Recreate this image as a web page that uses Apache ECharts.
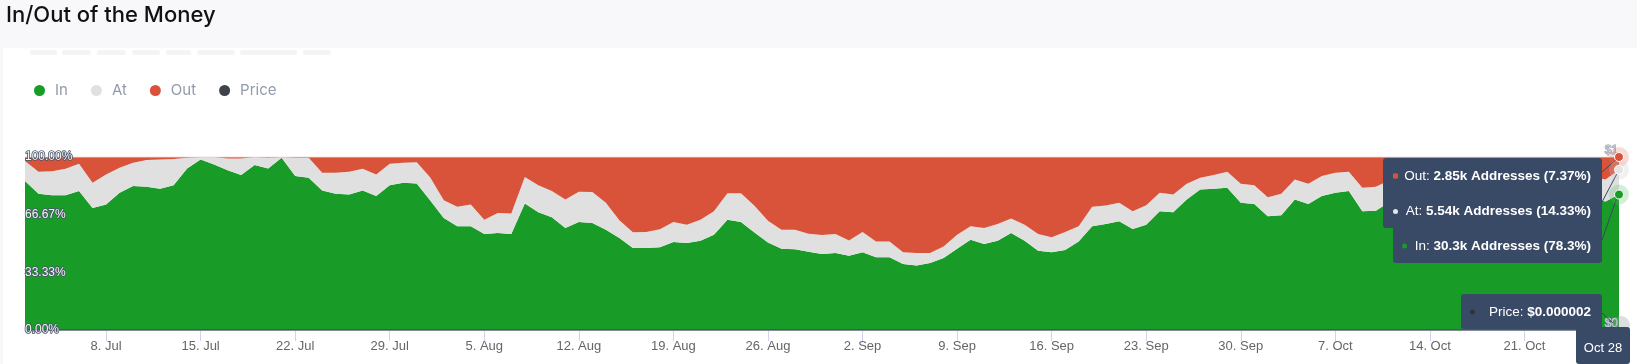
<!DOCTYPE html>
<html>
<head>
<meta charset="utf-8">
<script src="https://cdn.jsdelivr.net/npm/echarts@6/dist/echarts.min.js"></script>
<style>
  html, body { margin: 0; padding: 0; background: #f8f8fb; }
  #card { position: absolute; left: 3px; top: 48px; right: 0; bottom: 0; background: #ffffff; }
  #chart { position: absolute; left: 0; top: 0; width: 1637px; height: 364px; }
</style>
</head>
<body>
<div id="card"></div>
<div id="chart"></div>
<script>
// ---- data (percent of addresses, daily from Jul 2 to Oct 28) ----
const startDate = [2024, 6, 2];
const dayCount = 119;
const inPct = [
  86.1, 78.7, 77.9, 77.9, 80.3, 70.5, 72.5, 79.3, 83.2, 82.8,
  81.6, 83.7, 93.4, 98.5, 95.7, 92.3, 89.6, 95.4, 93.4, 99.6,
  89.0, 88.0, 80.7, 78.8, 78.3, 80.7, 77.4, 83.7, 85.1, 84.7,
  74.9, 64.8, 59.9, 59.9, 55.5, 56.1, 55.5, 73.1, 68.1, 65.2,
  59.0, 62.5, 61.9, 58.0, 53.2, 47.4, 47.4, 47.9, 50.9, 50.3,
  51.6, 55.1, 63.7, 62.4, 56.4, 50.6, 47.0, 46.7, 45.2, 44.0,
  44.5, 42.9, 44.9, 42.0, 42.0, 38.1, 37.3, 38.7, 41.6, 47.0,
  52.2, 49.7, 51.6, 56.1, 51.6, 45.8, 45.0, 46.2, 51.2, 59.9,
  61.3, 62.8, 58.4, 60.9, 68.7, 68.1, 75.4, 81.2, 81.6, 82.2,
  73.5, 72.9, 65.8, 66.3, 75.4, 72.9, 77.4, 79.3, 80.3, 68.7,
  69.0, 74.0, 76.5, 78.0, 77.0, 79.5, 78.5, 80.0, 76.0, 77.5,
  79.0, 78.0, 76.5, 78.5, 80.5, 79.0, 76.0, 74.3, 78.3
];
const atPct = [
  11.6, 12.8, 13.9, 15.3, 15.8, 14.6, 17.4, 14.5, 13.5, 15.5,
  17.0, 15.1, 6.2, 1.5, 4.3, 6.9, 9.6, 4.6, 6.2, 0.4,
  10.6, 11.6, 10.2, 12.1, 13.2, 12.5, 12.5, 12.4, 11.6, 12.2,
  13.3, 10.2, 11.3, 12.6, 8.3, 11.6, 11.8, 15.3, 15.5, 15.1,
  16.4, 17.4, 17.8, 15.5, 10.2, 9.1, 9.3, 10.3, 11.6, 10.6,
  12.2, 13.6, 15.4, 16.7, 15.4, 12.5, 11.0, 11.3, 10.4, 10.9,
  11.0, 8.9, 11.8, 9.2, 9.2, 6.9, 7.2, 5.8, 6.7, 8.0,
  7.8, 9.3, 9.7, 8.3, 9.3, 9.7, 8.6, 10.5, 8.8, 11.3,
  10.6, 10.7, 10.3, 11.2, 10.6, 10.2, 9.1, 6.8, 8.0, 9.3,
  11.0, 10.8, 11.0, 12.4, 11.6, 11.6, 11.6, 11.6, 11.2, 13.5,
  13.8, 12.5, 12.5, 12.5, 12.5, 12.0, 12.5, 12.0, 12.5, 12.5,
  12.0, 12.0, 12.5, 12.5, 12.0, 12.5, 12.5, 12.7, 14.33
];
const outPct = [
  2.3, 8.5, 8.2, 6.8, 3.9, 14.9, 10.1, 6.2, 3.3, 1.7,
  1.4, 1.2, 0.4, 0.0, 0.0, 0.8, 0.8, 0.0, 0.4, 0.0,
  0.4, 0.4, 9.1, 9.1, 8.5, 6.8, 10.1, 3.9, 3.3, 3.1,
  11.8, 25.0, 28.8, 27.5, 36.2, 32.3, 32.7, 11.6, 16.4, 19.7,
  24.6, 20.1, 20.3, 26.5, 36.6, 43.5, 43.3, 41.8, 37.5, 39.1,
  36.2, 31.3, 20.9, 20.9, 28.2, 36.9, 42.0, 42.0, 44.4, 45.1,
  44.5, 48.2, 43.3, 48.8, 48.8, 55.0, 55.5, 55.5, 51.7, 45.0,
  40.0, 41.0, 38.7, 35.6, 39.1, 44.5, 46.4, 43.3, 40.0, 28.8,
  28.1, 26.5, 31.3, 27.9, 20.7, 21.7, 15.5, 12.0, 10.4, 8.5,
  15.5, 16.3, 23.2, 21.3, 13.0, 15.5, 11.0, 9.1, 8.5, 17.8,
  17.2, 13.5, 11.0, 9.5, 10.5, 8.5, 9.0, 8.0, 11.5, 10.0,
  9.0, 10.0, 11.0, 9.0, 7.5, 8.5, 11.5, 13.0, 7.37
];
const pricePct = [
  0.000002, 0.000002, 0.000002, 0.000002, 0.000002, 0.000002, 0.000002, 0.000002, 0.000002, 0.000002,
  0.000002, 0.000002, 0.000002, 0.000002, 0.000002, 0.000002, 0.000002, 0.000002, 0.000002, 0.000002,
  0.000002, 0.000002, 0.000002, 0.000002, 0.000002, 0.000002, 0.000002, 0.000002, 0.000002, 0.000002,
  0.000002, 0.000002, 0.000002, 0.000002, 0.000002, 0.000002, 0.000002, 0.000002, 0.000002, 0.000002,
  0.000002, 0.000002, 0.000002, 0.000002, 0.000002, 0.000002, 0.000002, 0.000002, 0.000002, 0.000002,
  0.000002, 0.000002, 0.000002, 0.000002, 0.000002, 0.000002, 0.000002, 0.000002, 0.000002, 0.000002,
  0.000002, 0.000002, 0.000002, 0.000002, 0.000002, 0.000002, 0.000002, 0.000002, 0.000002, 0.000002,
  0.000002, 0.000002, 0.000002, 0.000002, 0.000002, 0.000002, 0.000002, 0.000002, 0.000002, 0.000002,
  0.000002, 0.000002, 0.000002, 0.000002, 0.000002, 0.000002, 0.000002, 0.000002, 0.000002, 0.000002,
  0.000002, 0.000002, 0.000002, 0.000002, 0.000002, 0.000002, 0.000002, 0.000002, 0.000002, 0.000002,
  0.000002, 0.000002, 0.000002, 0.000002, 0.000002, 0.000002, 0.000002, 0.000002, 0.000002, 0.000002,
  0.000002, 0.000002, 0.000002, 0.000002, 0.000002, 0.000002, 0.000002, 0.000002, 0.000002
];
const yTickValues = [0, 100 / 3, 200 / 3, 100];
const priceTickValues = [0, 1];
const monthNames = ['Jan','Feb','Mar','Apr','May','Jun','Jul','Aug','Sep','Oct','Nov','Dec'];
const tooltipRows = {
  out: ['Out: ', '2.85k Addresses (7.37%)'],
  at: ['At: ', '5.54k Addresses (14.33%)'],
  inn: ['In: ', '30.3k Addresses (78.3%)'],
  price: ['Price: ', '$0.000002'],
  date: 'Oct 28'
};

// ---- categories ----
const categories = [];
for (let i = 0; i < dayCount; i++) {
  const d = new Date(Date.UTC(startDate[0], startDate[1], startDate[2] + i));
  categories.push(d.getUTCDate() + '. ' + monthNames[d.getUTCMonth()]);
}
const tickFilter = (i) => i % 7 === 6 && i < dayCount - 1;

const GREEN = '#189c27', GRAY = '#e0e0e0', RED = '#d9533a', DARK = '#3e434b';
const chart = echarts.init(document.getElementById('chart'), null, { renderer: 'canvas' });

const option = {
  backgroundColor: 'transparent',
  animation: false,
  title: {
    text: 'In/Out of the Money', left: 1, top: -1,
    textStyle: { fontFamily: 'Inter', fontWeight: 500, fontSize: 22, color: '#111111' }
  },
  legend: {
    left: 29, top: 78, icon: 'circle', itemWidth: 11, itemHeight: 11, itemGap: 23,
    textStyle: { fontFamily: 'Inter', fontSize: 15, color: '#929bab', padding: [0, 0, 0, 5] },
    data: ['In', 'At', 'Out', 'Price']
  },
  grid: { left: 25, right: 18, top: 157, bottom: 34 },
  xAxis: {
    type: 'category', data: categories, boundaryGap: false,
    axisLine: { show: true, lineStyle: { color: '#ccd6eb' } },
    axisTick: { show: true, interval: tickFilter, length: 11, lineStyle: { color: '#ccd6eb' } },
    axisLabel: { interval: tickFilter, margin: 10, fontFamily: 'Liberation Sans', fontSize: 13, color: '#666666' },
    splitLine: { show: false }
  },
  yAxis: [{
    type: 'value', min: 0, max: 100, z: 10,
    axisLine: { show: false }, axisTick: { show: false }, splitLine: { show: false },
    axisLabel: {
      inside: true, margin: 0, customValues: yTickValues,
      formatter: (v) => v.toFixed(2) + '%',
      fontFamily: 'Liberation Sans', fontSize: 12, color: '#f3f4f7',
      textBorderColor: '#4a5468', textBorderWidth: 1.6, align: 'left', verticalAlign: 'middle'
    }
  }, {
    type: 'value', min: 0, max: 1, position: 'right', z: 10,
    axisLine: { show: false }, axisTick: { show: false }, splitLine: { show: false },
    axisLabel: {
      inside: true, margin: 1, customValues: priceTickValues,
      formatter: (v) => '$' + v,
      fontFamily: 'Liberation Sans', fontSize: 12, color: '#c9d0db',
      textBorderColor: '#8f9aae', textBorderWidth: 1, align: 'right', verticalAlign: 'bottom'
    }
  }],
  series: [
    { name: 'In', type: 'line', stack: 'pct', data: inPct, showSymbol: false,
      itemStyle: { color: GREEN }, lineStyle: { width: 0 }, areaStyle: { color: GREEN, opacity: 1 } },
    { name: 'At', type: 'line', stack: 'pct', data: atPct, showSymbol: false,
      itemStyle: { color: GRAY }, lineStyle: { width: 0 }, areaStyle: { color: GRAY, opacity: 1 } },
    { name: 'Out', type: 'line', stack: 'pct', data: outPct, showSymbol: false,
      itemStyle: { color: RED }, lineStyle: { width: 1, color: '#f0c4ba' }, areaStyle: { color: RED, opacity: 1 } },
    { name: 'Price', type: 'line', yAxisIndex: 1, data: pricePct, showSymbol: false, z: 5,
      itemStyle: { color: DARK }, lineStyle: { width: 1.5, color: '#4a4f57' } }
  ]
};
chart.setOption(option);

// ---- hover-state overlay (split tooltip + highlighted points) ----
const last = dayCount - 1;
const pOut = chart.convertToPixel({ gridIndex: 0 }, [last, inPct[last] + atPct[last] + outPct[last]]);
const pAt = chart.convertToPixel({ gridIndex: 0 }, [last, inPct[last] + atPct[last]]);
const pIn = chart.convertToPixel({ gridIndex: 0 }, [last, inPct[last]]);
const pPrice = chart.convertToPixel({ xAxisIndex: 0, yAxisIndex: 1 }, [last, pricePct[last]]);

const BOX = '#394a66';
const xr = pIn[0];
const boxRight = xr - 17;
const textX = xr - 28;
const rich = {
  n: { fontFamily: 'Liberation Sans', fontSize: 13.5, fill: '#ffffff' },
  b: { fontFamily: 'Liberation Sans', fontSize: 13.5, fontWeight: 'bold', fill: '#ffffff' }
};
function rowText(row, y) {
  return { type: 'text', x: textX, y: y, z: 30,
    style: { text: '{n|' + row[0] + '}{b|' + row[1] + '}', rich: rich, fill: '#ffffff', align: 'right', verticalAlign: 'middle' } };
}
function halo(p, color, fill) {
  return [
    { type: 'circle', shape: { cx: p[0], cy: p[1], r: 10 }, z: 25, style: { fill: color, opacity: 0.25 } },
    { type: 'circle', shape: { cx: p[0], cy: p[1], r: 4.5 }, z: 26, style: { fill: fill, stroke: '#ffffff', lineWidth: 1 } }
  ];
}
const graphics = [];
// faint skeleton placeholders at top of the card
[[30, 27], [62, 29], [97, 29], [132, 28], [166, 25], [197, 38], [240, 57], [303, 28]].forEach(r => {
  graphics.push({ type: 'rect', shape: { x: r[0], y: 50, width: r[1], height: 5, r: 2 }, z: 1, style: { fill: '#f4f4f7' } });
});
// connectors
const lineStyle = { stroke: '#3a4660', lineWidth: 1 };
graphics.push({ type: 'line', z: 24, shape: { x1: boxRight, y1: 172, x2: pOut[0] - 1, y2: pOut[1] + 1 }, style: lineStyle });
graphics.push({ type: 'line', z: 24, shape: { x1: boxRight, y1: 202, x2: pAt[0], y2: pAt[1] }, style: lineStyle });
graphics.push({ type: 'line', z: 24, shape: { x1: boxRight, y1: 240, x2: pIn[0] - 1, y2: pIn[1] }, style: lineStyle });
graphics.push({ type: 'line', z: 24, shape: { x1: boxRight, y1: 313, x2: pPrice[0] - 6, y2: pPrice[1] - 7 }, style: lineStyle });
// boxes
graphics.push({ type: 'rect', z: 27, shape: { x: boxRight - 219, y: 158, width: 219, height: 70, r: 3 }, style: { fill: BOX } });
graphics.push({ type: 'rect', z: 27, shape: { x: boxRight - 209, y: 226, width: 209, height: 37, r: 3 }, style: { fill: BOX } });
graphics.push({ type: 'rect', z: 27, shape: { x: boxRight - 141, y: 294, width: 141, height: 35, r: 3 }, style: { fill: BOX } });
graphics.push({ type: 'rect', z: 27, shape: { x: xr - 43, y: 327, width: 54, height: 37, r: 3 }, style: { fill: BOX } });
// row markers
graphics.push({ type: 'rect', z: 30, shape: { x: boxRight - 209, y: 173.5, width: 5, height: 5 }, style: { fill: RED } });
graphics.push({ type: 'circle', z: 30, shape: { cx: boxRight - 206.5, cy: 211.5, r: 2.5 }, style: { fill: '#e6e6e6' } });
graphics.push({ type: 'circle', z: 30, shape: { cx: boxRight - 197.5, cy: 246, r: 2.5 }, style: { fill: GREEN } });
graphics.push({ type: 'circle', z: 30, shape: { cx: boxRight - 129.5, cy: 312, r: 2.5 }, style: { fill: '#2f333a' } });
graphics.push(rowText(tooltipRows.out, 176));
graphics.push(rowText(tooltipRows.at, 211));
graphics.push(rowText(tooltipRows.inn, 246));
graphics.push(rowText(tooltipRows.price, 312));
graphics.push({ type: 'text', x: xr - 16, y: 348, z: 30,
  style: { text: tooltipRows.date, font: '13px "Liberation Sans"', fill: '#ffffff', align: 'center', verticalAlign: 'middle' } });
// highlighted points
graphics.push(...halo(pOut, '#e8705a', RED));
graphics.push(...halo(pAt, '#c8c8c8', '#e4e4e4'));
graphics.push(...halo(pIn, '#58c060', GREEN));
graphics.push({ type: 'circle', shape: { cx: pPrice[0] + 2, cy: pPrice[1] - 5, r: 9 }, z: 25, style: { fill: '#9aa0aa', opacity: 0.35 } });

chart.setOption({ graphic: graphics });
</script>
</body>
</html>
